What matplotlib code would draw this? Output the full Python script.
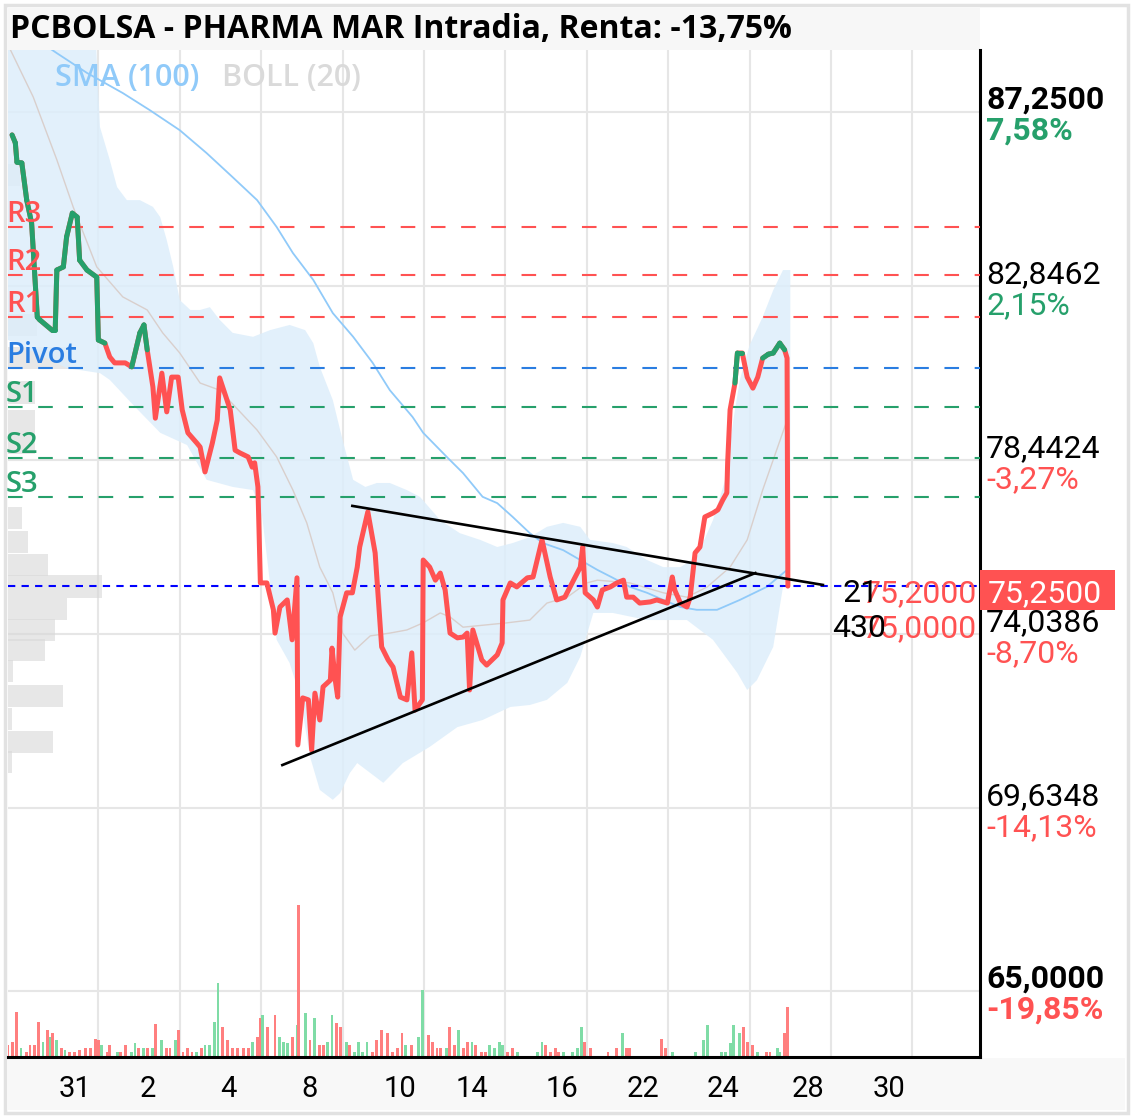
import matplotlib
matplotlib.use("Agg")
import matplotlib.pyplot as plt
import matplotlib.transforms as mtransforms
from matplotlib.collections import LineCollection
from matplotlib.patches import Rectangle
import numpy as np

plt.rcParams['font.family'] = ['Roboto', 'DejaVu Sans']
TITLE_FONT = ['Open Sans', 'Roboto', 'DejaVu Sans']

W, H = 1133, 1118

# x values are trading sessions (gridlines sit on whole numbers), prices in EUR
price_t = [-0.06, -0.02, 0.00, 0.06, 0.12, 0.18, 0.25, 0.28, 0.43, 0.47,
           0.49, 0.57, 0.61, 0.68, 0.74, 0.77, 0.86, 0.98, 1.00, 1.08,
           1.14, 1.20, 1.33, 1.41, 1.51, 1.56, 1.60, 1.67, 1.70, 1.78,
           1.84, 1.90, 1.98, 2.03, 2.10, 2.21, 2.25, 2.31, 2.40, 2.46,
           2.49, 2.62, 2.68, 2.74, 2.84, 2.89, 2.92, 2.96, 2.99, 3.07,
           3.15, 3.17, 3.23, 3.32, 3.38, 3.44, 3.45, 3.51, 3.58, 3.62,
           3.66, 3.72, 3.76, 3.85, 3.87, 3.91, 3.94, 3.97, 4.05, 4.12,
           4.18, 4.21, 4.31, 4.40, 4.48, 4.56, 4.62, 4.71, 4.79, 4.85,
           4.89, 4.98, 4.99, 5.07, 5.14, 5.20, 5.26, 5.32, 5.41, 5.48,
           5.53, 5.56, 5.60, 5.71, 5.77, 5.90, 5.96, 5.97, 6.06, 6.14,
           6.27, 6.34, 6.45, 6.55, 6.63, 6.73, 6.82, 6.92, 6.95, 6.98,
           7.08, 7.13, 7.19, 7.29, 7.37, 7.45, 7.49, 7.57, 7.65, 7.78,
           7.86, 7.99, 8.05, 8.08, 8.15, 8.23, 8.27, 8.33, 8.39, 8.45,
           8.55, 8.61, 8.67, 8.72, 8.73, 8.76, 8.82, 8.85, 8.91, 8.97,
           9.04, 9.10, 9.16, 9.23, 9.29, 9.37, 9.43, 9.46, 9.47]
price = [86.67, 86.47, 85.98, 85.96, 85.02, 84.44, 82.06, 81.99, 81.73, 81.73,
         83.25, 83.33, 84.09, 84.69, 84.59, 83.50, 83.25, 83.07, 81.48, 81.40,
         81.05, 80.90, 80.90, 80.80, 81.66, 81.86, 81.23, 80.29, 79.50, 80.64,
         79.66, 80.54, 80.54, 79.71, 79.13, 78.87, 78.77, 78.14, 78.87, 79.45,
         80.52, 79.71, 78.69, 78.62, 78.52, 78.26, 78.37, 77.76, 75.33, 75.33,
         74.65, 74.06, 74.72, 74.90, 73.89, 75.46, 71.23, 72.42, 72.37, 71.10,
         72.54, 71.86, 72.70, 72.87, 73.68, 72.87, 72.44, 74.47, 75.08, 75.08,
         75.73, 76.24, 77.13, 76.09, 73.71, 73.38, 73.20, 72.44, 72.37, 73.56,
         72.11, 72.37, 75.91, 75.73, 75.40, 75.58, 75.15, 74.06, 73.94, 73.96,
         74.06, 72.62, 74.14, 73.38, 73.25, 73.51, 73.81, 74.90, 75.33, 75.23,
         75.46, 75.48, 76.42, 75.48, 74.90, 74.97, 75.33, 75.73, 76.24, 75.08,
         74.90, 74.72, 75.15, 75.23, 75.33, 75.40, 74.97, 74.97, 74.82, 74.85,
         74.90, 74.82, 75.48, 75.15, 74.82, 74.72, 74.97, 76.09, 76.24, 77.00,
         77.10, 77.18, 77.43, 77.61, 78.37, 79.71, 80.39, 81.15, 81.15, 80.54,
         80.26, 80.54, 81.02, 81.12, 81.15, 81.40, 81.23, 81.02, 75.25]

sma_t = [-0.11, 0.49, 0.86, 1.30, 1.63, 2.00, 2.33, 2.65, 2.95, 3.19,
         3.39, 3.64, 3.88, 4.13, 4.37, 4.58, 4.86, 4.99, 5.28, 5.48,
         5.72, 5.90, 6.09, 6.30, 6.46, 6.71, 6.92, 7.13, 7.32, 7.53,
         7.74, 7.94, 8.15, 8.35, 8.60, 8.88, 9.21, 9.46]
sma = [89.58, 88.74, 88.24, 87.73, 87.30, 86.79, 86.21, 85.60, 85.02, 84.34,
       83.68, 83.00, 82.16, 81.56, 80.90, 80.21, 79.53, 79.13, 78.52, 78.11,
       77.51, 77.35, 77.00, 76.59, 76.34, 76.16, 75.91, 75.66, 75.46, 75.23,
       75.08, 74.90, 74.72, 74.65, 74.65, 74.90, 75.23, 75.66]

mid_t = [-0.11, 0.20, 0.49, 0.69, 0.98, 1.30, 1.60, 1.79, 2.00, 2.25,
         2.49, 2.95, 3.19, 3.39, 3.56, 3.72, 3.88, 4.00, 4.15, 4.34,
         4.58, 4.79, 4.99, 5.20, 5.32, 5.48, 6.02, 6.30, 6.51, 6.76,
         7.00, 7.13, 7.53, 7.94, 8.23, 8.48, 8.76, 8.97, 9.16, 9.46]
mid = [88.95, 87.63, 86.04, 84.85, 83.33, 82.57, 82.24, 81.66, 81.15, 80.39,
       80.21, 79.20, 78.52, 77.68, 76.85, 75.73, 75.08, 74.06, 73.63, 73.99,
       74.06, 74.14, 74.32, 74.57, 74.47, 74.21, 74.32, 74.39, 74.82, 74.97,
       75.33, 75.40, 75.33, 75.08, 74.97, 75.23, 75.73, 76.42, 77.68, 79.45]

up_t = [-0.11, 0.96, 1.02, 1.14, 1.23, 1.35, 1.51, 1.67, 1.76, 1.84,
        1.92, 2.00, 2.13, 2.25, 2.37, 2.49, 2.65, 2.90, 3.11, 3.35,
        3.54, 3.64, 3.72, 3.88, 4.00, 4.13, 4.28, 4.42, 4.58, 4.79,
        4.95, 5.20, 5.44, 5.69, 5.90, 6.09, 6.30, 6.51, 6.71, 6.92,
        7.04, 7.32, 7.49, 7.74, 7.94, 8.15, 8.35, 8.55, 8.70, 8.80,
        8.88, 9.00, 9.16, 9.29, 9.41, 9.50]
up = [89.58, 89.45, 86.87, 86.04, 85.35, 85.02, 85.02, 84.85, 84.59, 84.01,
      83.33, 82.49, 82.24, 82.24, 82.31, 81.99, 81.66, 81.56, 81.73, 81.86,
      81.73, 81.40, 80.80, 79.96, 78.95, 77.94, 77.76, 77.86, 77.86, 77.68,
      77.51, 76.92, 76.59, 76.42, 76.24, 76.34, 76.49, 76.75, 76.85, 76.75,
      76.42, 76.34, 76.24, 75.91, 75.73, 75.73, 75.99, 76.92, 77.94, 79.45,
      80.47, 81.35, 82.06, 82.74, 83.25, 83.25]

lo_t = [-0.11, 0.28, 0.61, 1.02, 1.14, 1.43, 1.76, 2.09, 2.33, 2.65,
        2.90, 3.01, 3.19, 3.35, 3.48, 3.60, 3.72, 3.88, 3.97, 4.09,
        4.18, 4.34, 4.50, 4.74, 5.07, 5.41, 5.72, 6.06, 6.30, 6.51,
        6.76, 6.92, 7.08, 7.32, 7.74, 8.23, 8.55, 8.85, 8.97, 9.09,
        9.29, 9.41, 9.50]
lo = [81.48, 81.10, 80.77, 80.64, 80.47, 79.83, 79.13, 78.82, 77.94, 77.76,
      77.68, 77.05, 73.89, 73.30, 72.44, 70.93, 70.09, 69.84, 70.01, 70.52,
      70.77, 70.52, 70.27, 70.77, 71.18, 71.68, 71.86, 72.19, 72.24, 72.37,
      72.80, 73.46, 74.57, 74.57, 74.39, 74.39, 73.89, 73.05, 72.62, 72.87,
      73.71, 75.23, 75.66]

# volume (thousand shares), g = up bar, r = down bar
vol_t = [-0.11, -0.05, 0.00, 0.05, 0.12, 0.16, 0.22, 0.26, 0.32, 0.37,
         0.41, 0.44, 0.49, 0.55, 0.59, 0.65, 0.71, 0.77, 0.84, 0.90,
         0.96, 1.00, 1.04, 1.11, 1.14, 1.23, 1.27, 1.33, 1.41, 1.45,
         1.49, 1.55, 1.60, 1.66, 1.70, 1.78, 1.84, 1.88, 1.95, 1.99,
         2.04, 2.10, 2.15, 2.21, 2.27, 2.31, 2.37, 2.43, 2.47, 2.53,
         2.59, 2.65, 2.71, 2.78, 2.84, 2.89, 2.95, 2.99, 3.02, 3.08,
         3.17, 3.22, 3.27, 3.32, 3.39, 3.44, 3.46, 3.54, 3.60, 3.66,
         3.72, 3.76, 3.82, 3.87, 3.93, 3.97, 4.05, 4.09, 4.15, 4.19,
         4.25, 4.30, 4.37, 4.42, 4.48, 4.55, 4.61, 4.67, 4.73, 4.77,
         4.85, 4.93, 4.98, 5.05, 5.10, 5.16, 5.20, 5.28, 5.31, 5.38,
         5.42, 5.48, 5.53, 5.59, 5.63, 5.71, 5.75, 5.81, 5.87, 5.93,
         5.97, 6.03, 6.09, 6.15, 6.39, 6.45, 6.49, 6.55, 6.61, 6.65,
         6.71, 6.82, 6.88, 6.94, 6.97, 7.04, 7.26, 7.37, 7.44, 7.49,
         7.53, 7.92, 7.97, 8.05, 8.33, 8.43, 8.48, 8.66, 8.70, 8.76,
         8.80, 8.88, 8.92, 8.97, 9.03, 9.10, 9.21, 9.25, 9.34, 9.37,
         9.43, 9.47]
vol = [12, 15, 45, 9, 5, 12, 12, 35, 15, 27,
       20, 24, 17, 9, 7, 5, 5, 7, 9, 9,
       18, 17, 12, 5, 12, 5, 5, 12, 5, 14,
       9, 9, 9, 9, 33, 17, 9, 9, 17, 27,
       5, 9, 5, 5, 9, 12, 12, 35, 74, 30,
       17, 9, 9, 9, 9, 15, 20, 39, 42, 30,
       42, 20, 15, 14, 20, 32, 152, 44, 17, 39,
       12, 12, 15, 42, 34, 30, 15, 12, 5, 15,
       5, 15, 5, 17, 27, 24, 5, 9, 24, 12,
       12, 20, 67, 22, 15, 9, 9, 9, 30, 12,
       27, 9, 15, 15, 12, 5, 5, 12, 9, 15,
       12, 5, 9, 5, 5, 15, 12, 5, 9, 5,
       5, 5, 9, 30, 15, 9, 5, 9, 24, 9,
       9, 18, 9, 5, 5, 17, 32, 5, 5, 14,
       32, 24, 30, 15, 12, 5, 5, 5, 9, 5,
       24, 50]
vol_dir = ("rrrgrrrrgr" "grgrgrrrrr" "rrgrrgrrgg" "rgrgrgrrgr" "rrrgrggggr"
           "rrrrrgrrgr" "rgggrgrgrg" "rrggrrgrgg" "ggrrrrrrrg" "rggrrrrgrr"
           "grrgrrrggg" "grrgggrrrr" "ggggrrrrgr" "rrrggggggg" "ggrrrgrrgg" "rr")

# volume profile by price level
profile_price = [85.66, 81.86, 81.03, 80.15, 79.43, 78.87, 76.98, 76.36, 75.78,
                 75.24, 74.67, 74.14, 73.63, 73.10, 72.46, 71.88, 71.31, 70.80]
profile_vol = [12, 29, 62, 27, 27, 27, 14, 20, 40, 94, 59, 47, 37, 5, 55, 4, 45, 4]

pivot_names = ['R3', 'R2', 'R1', 'Pivot', 'S1', 'S2', 'S3']
pivot_vals = [84.34, 83.12, 82.06, 80.77, 79.78, 78.49, 77.51]

axis_levels = [87.25, 82.8462, 78.4424, 74.0386, 69.6348, 65.0]
axis_pct = ['7,58%', '2,15%', '-3,27%', '-8,70%', '-14,13%', '-19,85%']

tri_up_t, tri_up = [4.12, 9.90], [77.28, 75.28]
tri_lo_t, tri_lo = [3.26, 9.07], [70.72, 75.58]

ref_close = 81.10
last_price = 75.25
book_px = [75.20, 75.00]
book_qty = ['21', '430']

day_labels = ['31', '2', '4', '8', '10', '14', '16', '22', '24', '28', '30']
day_pos = [0.71, 1.61, 2.60, 3.59, 4.71, 5.59, 6.70, 7.69, 8.67, 9.72, 10.71]

RED = '#ff5252'
GREEN = '#26a06b'
BLUE = '#2a7de1'

fig = plt.figure(figsize=(W / 100, H / 100), dpi=100)
ax = fig.add_axes([8 / W, 61 / H, 972 / W, 1007 / H])
ax.set_xlim(-0.11, 11.83)
ax.set_ylim(63.33, 88.82)

# frame decorations
fig.add_artist(Rectangle((5 / W, 5 / H), 1123 / W, 1108 / H, transform=fig.transFigure,
                         fill=False, edgecolor='#e2e2e2', lw=2.5, zorder=-2))
fig.add_artist(Rectangle((8 / W, 1 - 50 / H), 972 / W, 42 / H, transform=fig.transFigure,
                         facecolor='#f7f7f7', edgecolor='none', zorder=-1))
fig.add_artist(Rectangle((8 / W, 8 / H), 1117 / W, 52 / H, transform=fig.transFigure,
                         facecolor='#f8f8f8', edgecolor='none', zorder=-1))
fig.text(10 / W, 1 - 30 / H, 'PCBOLSA - PHARMA MAR Intradia, Renta: -13,75%',
         fontsize=23, weight='bold', va='center', ha='left', family=TITLE_FONT)

# grid
for k in range(1, 12):
    ax.axvline(k, color='#e6e6e6', lw=1.5, zorder=0)
for lv in axis_levels:
    ax.axhline(lv, color='#e6e6e6', lw=1.5, zorder=0)

x_ax_y_data = mtransforms.blended_transform_factory(ax.transAxes, ax.transData)
x_data_y_ax = mtransforms.blended_transform_factory(ax.transData, ax.transAxes)

# volume profile on the left
ax.barh(profile_price, np.array(profile_vol) / 972, height=0.56, left=0,
        color='#d8d8d8', alpha=0.6, transform=x_ax_y_data, zorder=1, linewidth=0)

# bollinger band, middle line and SMA
ax.fill(np.r_[up_t, lo_t[::-1]], np.r_[up, lo[::-1]], color='#ddeefb', alpha=0.85,
        lw=0, zorder=1)
ax.plot(mid_t, mid, color='#d9cfcc', lw=1.0, zorder=2)
ax.plot(sma_t, sma, color='#90caf9', lw=1.3, zorder=2)

# volume bars
vcol = ['#7fdca6' if d == 'g' else '#ff7f7f' for d in vol_dir]
ax.bar(vol_t, np.array(vol) / 1007, width=0.036, bottom=0, color=vcol,
       transform=x_data_y_ax, zorder=2, linewidth=0)

# pivot lines
piv_cols = [RED, RED, RED, BLUE, GREEN, GREEN, GREEN]
for name, val, c in zip(pivot_names, pivot_vals, piv_cols):
    ax.axhline(val, color=c, lw=1.5, linestyle=(0, (7, 7.5)), zorder=3)
    ax.annotate(name, xy=(0, val), xycoords=x_ax_y_data, xytext=(-2, 5),
                textcoords='offset pixels', va='baseline', ha='left', fontsize=21,
                color=c, weight='semibold', family=TITLE_FONT, zorder=8)

# last price dotted line
ax.axhline(last_price, color='#0000ff', lw=1.5, linestyle=(0, (3.5, 3)), zorder=3)

# price line: red, green where the close is above the previous close
ax.plot(price_t, price, color=RED, lw=3.6, solid_joinstyle='round',
        solid_capstyle='round', zorder=4)
segs = [[(price_t[i], price[i]), (price_t[i + 1], price[i + 1])]
        for i in range(len(price) - 1) if price[i + 1] >= ref_close]
ax.add_collection(LineCollection(segs, colors=GREEN, linewidths=3.6,
                                 capstyle='round', zorder=5))

# triangle
ax.plot(tri_up_t, tri_up, color='black', lw=1.9, zorder=6)
ax.plot(tri_lo_t, tri_lo, color='black', lw=1.9, zorder=6)

# legend
ax.text(47 / 972, 1 - 28 / 1007, 'SMA (100)', transform=ax.transAxes, fontsize=22,
        color='#90caf9', weight='semibold', va='center', family=TITLE_FONT, zorder=8)
ax.text(214 / 972, 1 - 28 / 1007, 'BOLL (20)', transform=ax.transAxes, fontsize=22,
        color='#dadada', weight='semibold', va='center', family=TITLE_FONT, zorder=8)

# right scale labels
for i, (lv, pc) in enumerate(zip(axis_levels, axis_pct)):
    wt = 'bold' if i in (0, len(axis_levels) - 1) else 'normal'
    ax.annotate(f'{lv:.4f}'.replace('.', ','), xy=(1, lv), xycoords=x_ax_y_data,
                xytext=(6, 3), textcoords='offset pixels', va='baseline', ha='left',
                fontsize=23, weight=wt, color='black', annotation_clip=False, zorder=9)
    ax.annotate(pc, xy=(1, lv), xycoords=x_ax_y_data, xytext=(6, -28),
                textcoords='offset pixels', va='baseline', ha='left', fontsize=23,
                weight=wt, color=GREEN if not pc.startswith('-') else RED,
                annotation_clip=False, zorder=9)

# order book labels near the right edge (they overlap in the original too)
for bp, dy in zip(book_px, [-16, -51]):
    ax.annotate(f'{bp:.4f}'.replace('.', ','), xy=(0.997, last_price), xycoords=x_ax_y_data,
                xytext=(0, dy), textcoords='offset pixels', va='baseline', ha='right',
                fontsize=23, color=RED, zorder=9)
for q, dx, dy in zip(book_qty, [-98, -91], [-16, -51]):
    ax.annotate(q, xy=(0.997, last_price), xycoords=x_ax_y_data,
                xytext=(dx, dy), textcoords='offset pixels', va='baseline', ha='right',
                fontsize=23, color='black', zorder=10)

# last price box
ax.add_patch(Rectangle((1.0, last_price - 0.60), 135 / 972, 1.01, transform=x_ax_y_data,
                       facecolor=RED, edgecolor='none', clip_on=False, zorder=11))
ax.annotate(f'{last_price:.4f}'.replace('.', ','), xy=(1, last_price), xycoords=x_ax_y_data,
            xytext=(8, -16), textcoords='offset pixels', va='baseline', ha='left',
            fontsize=23, color='white', annotation_clip=False, zorder=12)

# axes styling
for s in ['top', 'left']:
    ax.spines[s].set_visible(False)
ax.spines['bottom'].set_linewidth(2.2)
ax.spines['right'].set_linewidth(2.2)
ax.set_yticks([])
ax.set_xticks(day_pos)
ax.set_xticklabels(day_labels, fontsize=21)
ax.tick_params(axis='x', length=0, pad=13)

fig.savefig('out.png', dpi=100)
